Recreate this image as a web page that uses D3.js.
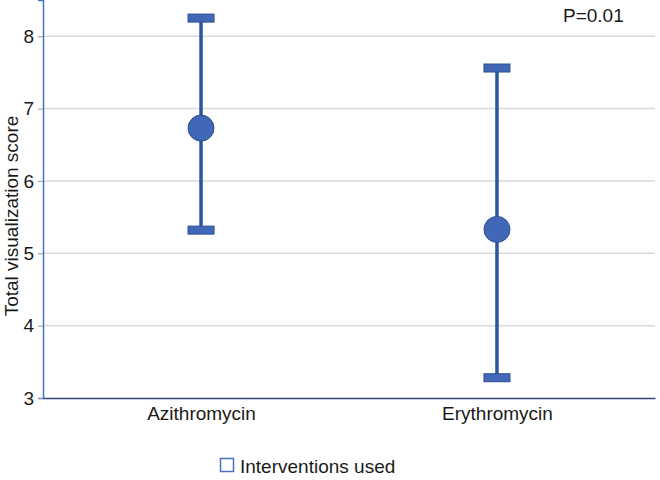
<!DOCTYPE html>
<html><head><meta charset="utf-8">
<script src="https://cdn.jsdelivr.net/npm/d3@7/dist/d3.min.js"></script>
<style>body{margin:0;background:#fff;} text{font-family:"Liberation Sans",Arial,sans-serif;}</style>
</head><body>
<svg id="c" width="660" height="480"></svg>
<script>
const categories = ["Azithromycin", "Erythromycin"];
const means = [6.73, 5.33];
const lower = [5.32, 3.28];
const upper = [8.25, 7.56];
const yTicks = [3, 4, 5, 6, 7, 8];
const pLabel = "P=0.01";
const legendLabel = "Interventions used";

(function () {
const svg = d3.select("#c");
const mL = 43, mR = 655, mT = 0, mB = 398;
const fs = 19, txt = "#1a1a1a";
const y = d3.scaleLinear().domain([3, 8.5]).range([mB, mT]);
const x = d3.scalePoint().domain(categories).range([mL, mR]).padding(0.534);

// gridlines
svg.append("g").selectAll("line").data(yTicks.filter(d => d > 3)).join("line")
  .attr("x1", mL).attr("x2", mR).attr("y1", d => y(d)).attr("y2", d => y(d))
  .attr("stroke", "#d9d9d9").attr("stroke-width", 1.5);

// y axis
const ya = svg.append("g").attr("transform", `translate(${mL},0)`)
  .call(d3.axisLeft(y).tickValues(yTicks).tickFormat(d3.format("d")).tickSize(5).tickPadding(4));
ya.select(".domain").attr("stroke", "#4a72c0").attr("stroke-width", 1.5);
ya.selectAll(".tick line").attr("stroke", "#999");
ya.selectAll(".tick text").attr("font-size", fs).attr("fill", txt)
  .attr("font-family", "Liberation Sans, Arial, sans-serif");

// x axis
const xa = svg.append("g").attr("transform", `translate(0,${mB})`)
  .call(d3.axisBottom(x).tickSize(0).tickPadding(9));
xa.select(".domain").attr("stroke", "#2f4776").attr("stroke-width", 1.5);
xa.selectAll(".tick text").attr("font-size", fs).attr("fill", txt)
  .attr("font-family", "Liberation Sans, Arial, sans-serif");

// y label
svg.append("text").attr("transform", `translate(18,216) rotate(-90)`)
  .attr("text-anchor", "middle").attr("font-size", fs).attr("fill", txt)
  .text("Total visualization score");

const fill = "#4068b6", stroke = "#2c4f93";
const g = svg.append("g");
categories.forEach((c, i) => {
  const cx = x(c);
  g.append("line").attr("x1", cx).attr("x2", cx).attr("y1", y(upper[i])).attr("y2", y(lower[i]))
    .attr("stroke", "#2d56a0").attr("stroke-width", 3.5);
  [upper[i], lower[i]].forEach(v => {
    g.append("rect").attr("x", cx - 13).attr("y", y(v) - 4).attr("width", 26).attr("height", 8)
      .attr("fill", fill).attr("stroke", stroke).attr("stroke-width", 1);
  });
  g.append("circle").attr("cx", cx).attr("cy", y(means[i])).attr("r", 13)
    .attr("fill", fill).attr("stroke", stroke).attr("stroke-width", 1);
});

// P label
svg.append("text").attr("x", 563).attr("y", 22)
  .attr("font-size", fs).attr("fill", txt).text(pLabel);

// legend
svg.append("rect").attr("x", 220.5).attr("y", 458.5).attr("width", 13).attr("height", 13)
  .attr("fill", "#fff").attr("stroke", "#4a72c0").attr("stroke-width", 1.5);
svg.append("text").attr("x", 240).attr("y", 473).attr("font-size", fs).attr("fill", txt)
  .text(legendLabel);
})();
</script>
</body></html>
